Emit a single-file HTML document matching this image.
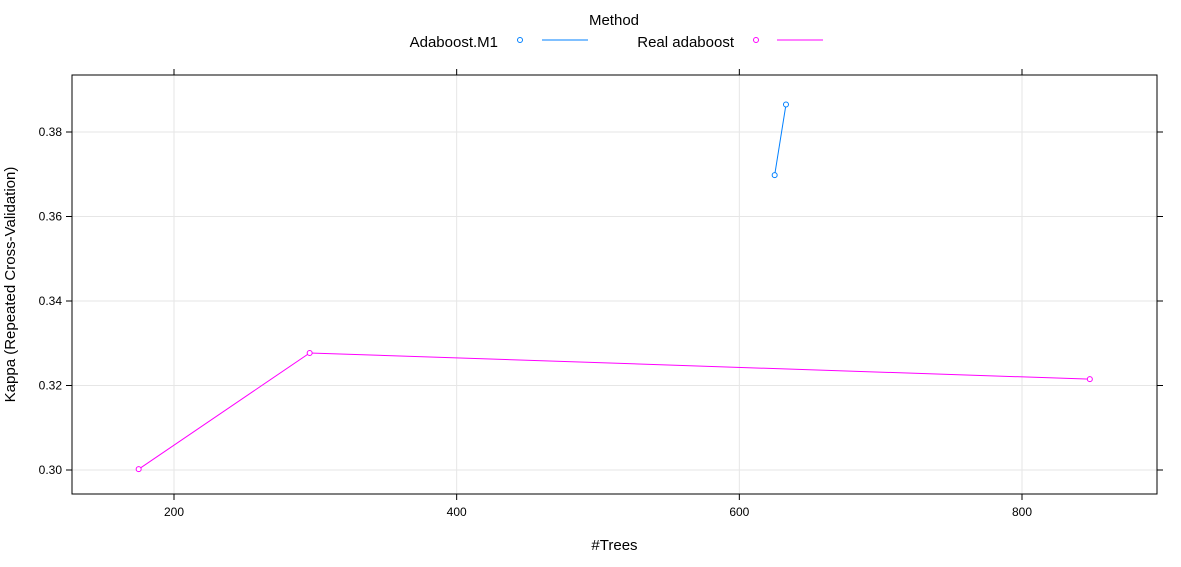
<!DOCTYPE html>
<html><head><meta charset="utf-8"><style>
body{margin:0;background:#fff;}
svg text{font-family:"Liberation Sans",Arial,sans-serif;}
</style></head><body>
<svg id="c" width="1181" height="562" xmlns="http://www.w3.org/2000/svg"></svg>
<script>
const xTicks=[200,400,600,800];
const yTicks=[0.30,0.32,0.34,0.36,0.38];
const yTickLabels=["0.30","0.32","0.34","0.36","0.38"];
const m1Trees=[625,633];
const m1Kappa=[0.3698,0.3865];
const realTrees=[175,296,848];
const realKappa=[0.3002,0.3277,0.3215];

const L=72,R=1157,T=75,B=494;
function sx(v){return 174+(v-200)*(1022-174)/600;}
function sy(v){return 470-(v-0.30)*(470-132)/0.08;}
const svg=document.getElementById('c');
const NS='http://www.w3.org/2000/svg';
function el(tag,attrs,parent){const e=document.createElementNS(NS,tag);for(const k in attrs)e.setAttribute(k,attrs[k]);(parent||svg).appendChild(e);return e;}

// grid
xTicks.forEach(t=>{const g=el('line',{x1:sx(t),x2:sx(t),y1:T,y2:B,stroke:'#e6e6e6'});

});
yTicks.forEach(t=>{const g=el('line',{x1:L,x2:R,y1:sy(t),y2:sy(t),stroke:'#e6e6e6'});

});
const frame=el('rect',{x:L,y:T,width:R-L,height:B-T,fill:'none',stroke:'#000'});



// ticks
xTicks.forEach(t=>{
 el('line',{x1:sx(t),x2:sx(t),y1:B,y2:B+6,stroke:'#000'});
 el('line',{x1:sx(t),x2:sx(t),y1:T,y2:T-6,stroke:'#000'});
 const tx=el('text',{x:sx(t),y:B+22,'font-size':12,'text-anchor':'middle'});tx.textContent=t;
 
 
});
yTicks.forEach((t,i)=>{
 el('line',{x1:L,x2:L-6,y1:sy(t),y2:sy(t),stroke:'#000'});
 el('line',{x1:R,x2:R+6,y1:sy(t),y2:sy(t),stroke:'#000'});
 const tx=el('text',{x:L-10,y:sy(t)+4,'font-size':12,'text-anchor':'end'});tx.textContent=yTickLabels[i];
 
 
});
const xt=el('text',{x:(L+R)/2,y:550,'font-size':15,'text-anchor':'middle'});xt.textContent='#Trees';


const yt=el('text',{x:0,y:0,'font-size':15,'text-anchor':'middle',transform:'translate(15,'+((T+B)/2)+') rotate(-90)'});yt.textContent='Kappa (Repeated Cross-Validation)';



function series(xs,ys,col,name){
 const pts=xs.map((x,i)=>sx(x)+','+sy(ys[i])).join(' ');
 const pl=el('polyline',{points:pts,fill:'none',stroke:col,'stroke-width':1});
 
 
 xs.forEach((x,i)=>{const c=el('circle',{cx:sx(x),cy:sy(ys[i]),r:2.5,fill:'#fff',stroke:col});
 
 });
}
series(m1Trees,m1Kappa,'#0080ff','adaboost-m1');
series(realTrees,realKappa,'#ff00ff','real-adaboost');

// legend
const lt=el('text',{x:614,y:25,'font-size':15,'text-anchor':'middle'});lt.textContent='Method';


function leg(tx,label,cx,lx,col,name){
 const t=el('text',{x:tx,y:47,'font-size':15,'text-anchor':'end'});t.textContent=label;
 
 
 el('circle',{cx:cx,cy:40,r:2.5,fill:'#fff',stroke:col});
 el('line',{x1:lx,x2:lx+46,y1:40,y2:40,stroke:col});
}
leg(498,'Adaboost.M1',520,542,'#0080ff','adaboost-m1');
leg(734,'Real adaboost',756,777,'#ff00ff','real-adaboost');
</script>
</body></html>
